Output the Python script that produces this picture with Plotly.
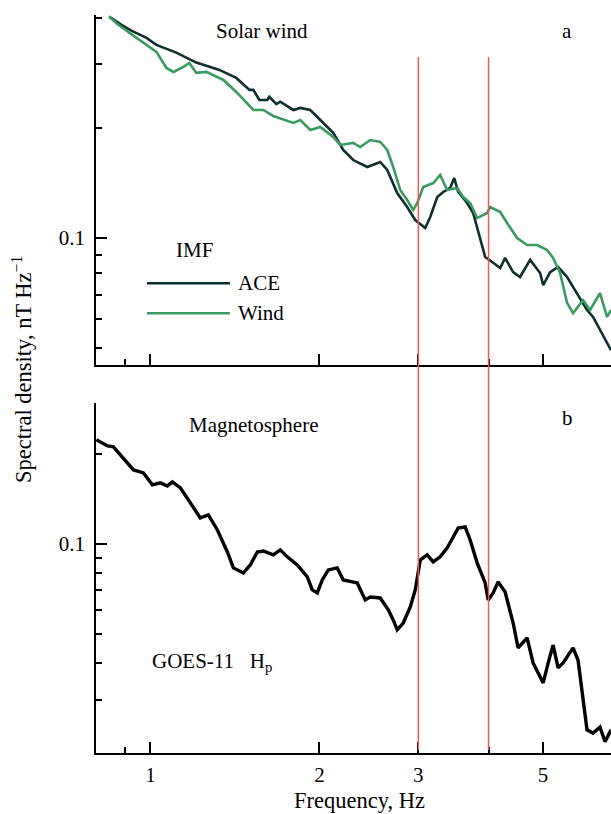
import math
import plotly.graph_objects as go

# ---- Data (frequency in Hz, spectral density in nT Hz^-1) ----
ace_freq = [0.844, 0.888, 0.925, 0.984, 1.025, 1.112, 1.207, 1.327, 1.422, 1.501,
            1.525, 1.563, 1.615, 1.628, 1.676, 1.703, 1.797, 1.849, 1.926, 2.007,
            2.116, 2.205, 2.297, 2.433, 2.566, 2.641, 2.751, 2.866, 2.962, 3.086,
            3.150, 3.242, 3.322, 3.418, 3.475, 3.532, 3.665, 3.756, 3.866, 3.946,
            4.060, 4.196, 4.282, 4.425, 4.553, 4.745, 4.943, 5.005, 5.151, 5.321,
            5.521, 5.751, 5.991, 6.141, 6.319, 6.504, 6.611]
ace_psd = [0.404, 0.3834, 0.3698, 0.3531, 0.3379, 0.3219, 0.3022, 0.2886, 0.2744, 0.2544,
           0.2544, 0.2388, 0.2388, 0.2434, 0.2328, 0.2362, 0.2242, 0.2271, 0.2242, 0.2105,
           0.1940, 0.1742, 0.1635, 0.1565, 0.1615, 0.1536, 0.1328, 0.1216, 0.1120, 0.1065,
           0.1142, 0.1295, 0.1337, 0.1371, 0.1460, 0.1337, 0.1247, 0.1171, 0.0987, 0.0887,
           0.0860, 0.0828, 0.0882, 0.0807, 0.0782, 0.0871, 0.0802, 0.0743, 0.0807, 0.0833,
           0.0782, 0.0707, 0.0635, 0.0608, 0.0560, 0.0516, 0.0493]

wind_freq = [0.844, 0.870, 0.918, 0.972, 1.025, 1.068, 1.099, 1.145, 1.173, 1.207,
             1.258, 1.349, 1.422, 1.525, 1.589, 1.655, 1.797, 1.849, 1.926, 2.007,
             2.116, 2.178, 2.297, 2.364, 2.463, 2.566, 2.641, 2.706, 2.785, 2.866,
             2.938, 2.987, 3.061, 3.189, 3.281, 3.377, 3.518, 3.605, 3.710, 3.818,
             3.978, 4.027, 4.196, 4.317, 4.498, 4.686, 4.883, 5.088, 5.214, 5.365,
             5.521, 5.658, 5.894, 6.066, 6.319, 6.504, 6.611]
wind_psd = [0.404, 0.3875, 0.3644, 0.3421, 0.3233, 0.2922, 0.2850, 0.2941, 0.3016, 0.2832,
            0.2850, 0.2709, 0.2512, 0.2242, 0.2242, 0.2159, 0.2066, 0.2105, 0.1976, 0.2014,
            0.1891, 0.1798, 0.1821, 0.1775, 0.1855, 0.1833, 0.1742, 0.1565, 0.1354, 0.1271,
            0.1193, 0.1247, 0.1379, 0.1414, 0.1488, 0.1354, 0.1371, 0.1295, 0.1247, 0.1134,
            0.1171, 0.1216, 0.1178, 0.1099, 0.1000, 0.0957, 0.0957, 0.0927, 0.0882, 0.0802,
            0.0664, 0.0623, 0.0676, 0.0635, 0.0707, 0.0608, 0.0635]

goes_freq = [0.801, 0.839, 0.859, 0.895, 0.933, 0.972, 1.008, 1.042, 1.072, 1.094,
             1.131, 1.178, 1.227, 1.268, 1.316, 1.371, 1.405, 1.464, 1.506, 1.550,
             1.589, 1.655, 1.703, 1.753, 1.826, 1.903, 1.942, 1.982, 2.023, 2.074,
             2.151, 2.205, 2.335, 2.413, 2.463, 2.566, 2.652, 2.706, 2.751, 2.820,
             2.902, 2.962, 3.024, 3.111, 3.189, 3.281, 3.377, 3.461, 3.532, 3.635,
             3.710, 3.818, 3.946, 3.995, 4.077, 4.161, 4.282, 4.425, 4.516, 4.686,
             4.803, 4.903, 5.005, 5.109, 5.214, 5.321, 5.432, 5.521, 5.658, 5.774,
             5.894, 5.991, 6.141, 6.319, 6.450, 6.611]
goes_psd = [0.2234, 0.2132, 0.2116, 0.1944, 0.1771, 0.1731, 0.1578, 0.1602, 0.1565, 0.1615,
            0.1541, 0.1373, 0.1223, 0.1251, 0.1114, 0.0940, 0.0831, 0.0799, 0.0850, 0.0940,
            0.0947, 0.0919, 0.0955, 0.0905, 0.0850, 0.0775, 0.0701, 0.0685, 0.0757, 0.0818,
            0.0831, 0.0757, 0.0740, 0.0649, 0.0664, 0.0659, 0.0601, 0.0556, 0.0515, 0.0543,
            0.0615, 0.0701, 0.0884, 0.0919, 0.0870, 0.0905, 0.0970, 0.1055, 0.1131, 0.1140,
            0.1031, 0.0864, 0.0740, 0.0649, 0.0685, 0.0746, 0.0690, 0.0543, 0.0448, 0.0484,
            0.0399, 0.0369, 0.0342, 0.0399, 0.0458, 0.0384, 0.0399, 0.0418, 0.0448, 0.0408,
            0.0293, 0.0238, 0.0232, 0.0243, 0.0217, 0.0238]

marker_freqs = [3, 4]

x_major = [1, 2, 3, 5]
x_major_text = ["1", "2", "3", "5"]
x_minor = [0.9, 4]
ya_minor = [0.05, 0.06, 0.07, 0.08, 0.09, 0.2, 0.3, 0.4]
yb_minor = [0.03, 0.04, 0.05, 0.06, 0.07, 0.08, 0.09, 0.2]
y_major = [0.1]
y_major_text = ["0.1"]

x_range = [0.8, 6.61]
ya_range = [0.0449, 0.408]
yb_range = [0.0199, 0.297]

ACE_COLOR = "#0e2f2b"
WIND_COLOR = "#3a9a62"
FONT = "Liberation Serif"
FS = 21

fig = go.Figure()
fig.add_trace(go.Scatter(x=ace_freq, y=ace_psd, mode="lines", name="ACE",
                         line=dict(color=ACE_COLOR, width=2.6), xaxis="x2", yaxis="y2"))
fig.add_trace(go.Scatter(x=wind_freq, y=wind_psd, mode="lines", name="Wind",
                         line=dict(color=WIND_COLOR, width=2.6), xaxis="x2", yaxis="y2"))
fig.add_trace(go.Scatter(x=goes_freq, y=goes_psd, mode="lines", name="GOES-11 Hp",
                         line=dict(color="black", width=3.4), xaxis="x", yaxis="y"))

common_x = dict(type="log", range=[math.log10(v) for v in x_range],
                showline=True, linecolor="black", linewidth=1.5, mirror=False,
                showgrid=False, zeroline=False, ticks="inside", ticklen=11, tickwidth=1.5,
                tickcolor="black", tickmode="array", tickvals=x_major,
                minor=dict(tickmode="array", tickvals=x_minor, ticks="inside",
                           ticklen=6, tickwidth=1.5, tickcolor="black", showgrid=False))
common_y = dict(type="log", showline=True, linecolor="black", linewidth=1.5,
                showgrid=False, zeroline=False, ticks="inside", ticklen=11, tickwidth=1.5,
                tickcolor="black", tickmode="array", tickvals=y_major, ticktext=y_major_text,
                tickfont=dict(family=FONT, size=FS, color="black"), ticklabelstandoff=5)

fig.update_layout(
    width=611, height=814,
    margin=dict(l=96, r=0, t=15, b=61),
    paper_bgcolor="white", plot_bgcolor="white",
    showlegend=False,
    font=dict(family=FONT, size=FS, color="black"),
    xaxis=dict(common_x, anchor="y", domain=[0, 1], ticktext=x_major_text,
               tickfont=dict(family=FONT, size=FS, color="black"), ticklabelstandoff=2),
    xaxis2=dict(common_x, anchor="y2", domain=[0, 1], matches="x", showticklabels=False),
    yaxis=dict(common_y, anchor="x", domain=[0, 0.4743],
               range=[math.log10(v) for v in yb_range],
               minor=dict(tickmode="array", tickvals=yb_minor, ticks="inside",
                          ticklen=6, tickwidth=1.5, tickcolor="black", showgrid=False)),
    yaxis2=dict(common_y, anchor="x2", domain=[0.5257, 1],
                range=[math.log10(v) for v in ya_range],
                minor=dict(tickmode="array", tickvals=ya_minor, ticks="inside",
                           ticklen=6, tickwidth=1.5, tickcolor="black", showgrid=False)),
)

# Red marker lines spanning both panels
for f in marker_freqs:
    fig.add_shape(type="line", xref="x", yref="paper",
                  x0=f, x1=f, y0=0.004, y1=0.943,
                  line=dict(color="#ff5050", width=1.4), layer="above")

# Legend samples (panel a)
fig.add_shape(type="line", xref="paper", yref="paper", x0=0.099, x1=0.260,
              y0=0.6365, y1=0.6365, line=dict(color=ACE_COLOR, width=2.6))
fig.add_shape(type="line", xref="paper", yref="paper", x0=0.099, x1=0.260,
              y0=0.5958, y1=0.5958, line=dict(color=WIND_COLOR, width=2.6))

def note(text, x, y, xanchor="center", size=FS, **kw):
    fig.add_annotation(text=text, x=x, y=y, xref="paper", yref="paper",
                       xanchor=xanchor, yanchor="middle", showarrow=False,
                       font=dict(family=FONT, size=size, color="black"), **kw)

note("Solar wind", 0.3223, 0.978)
note("a", 0.9146, 0.978)
note("IMF", 0.192, 0.6816)
note("ACE", 0.2718, 0.6365, xanchor="left")
note("Wind", 0.2718, 0.5958, xanchor="left")
note("Magnetosphere", 0.305, 0.4444)
note("b", 0.9165, 0.4539)
note("GOES-11&nbsp;&nbsp;&nbsp;H<sub>p</sub>", 0.1049, 0.1233, xanchor="left")
note("Frequency, Hz", 0.5126, 0.0, yshift=-47, size=22.5)
note("Spectral density, nT Hz<sup>\u22121</sup>", 0.0, 0.519, textangle=-90, xshift=-74, size=22.5)

fig.write_html("out.html")
